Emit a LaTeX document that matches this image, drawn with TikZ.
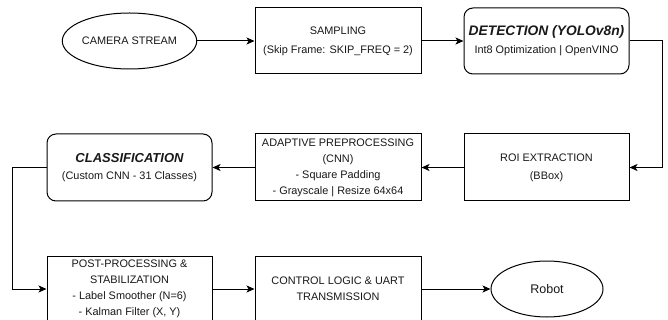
\documentclass[tikz,border=0pt]{standalone}
\usepackage{fontspec}
\setmainfont{Liberation Sans}
\usetikzlibrary{shapes.geometric,arrows.meta}
\begin{document}
\begin{tikzpicture}[x=1pt,y=-1pt,
  every node/.style={font=\fontsize{10.9}{16}\selectfont, text=black!90, align=center, inner sep=0pt},
  box/.style={draw, line width=1pt, minimum width=166pt, minimum height=66pt},
  rbox/.style={box, rounded corners=9pt},
  oval/.style={draw, line width=1pt, ellipse},
  conn/.style={draw, line width=1pt, -{Stealth[length=8pt,width=7pt,inset=2pt]}}
]
\useasboundingbox (0,0) rectangle (668,320);
\fill[white] (0,0) rectangle (668,320);
\node[oval, minimum width=105pt, minimum height=56pt] (cam) at (129.5,41) {CAMERA STREAM};
\node[box] (samp) at (338,41) {SAMPLING\\[3pt](Skip Frame: SKIP\_FREQ = 2)};
\node[rbox, minimum width=165pt] (det) at (546.5,41) {{\fontsize{13.8}{16}\selectfont\bfseries\itshape DETECTION (YOLOv8n)}\\[2pt]Int8 Optimization | OpenVINO};
\node[box, minimum width=165pt, minimum height=67pt] (roi) at (546.5,167.5) {ROI EXTRACTION\\[2pt](BBox)};
\node[box, minimum height=67pt] (ada) at (338,167.5) {ADAPTIVE PREPROCESSING\\(CNN)\\- Square Padding\\- Grayscale | Resize 64x64};
\node[rbox, minimum width=165pt, minimum height=67pt] (cls) at (129.5,167.5) {{\fontsize{13}{16}\selectfont\bfseries\itshape CLASSIFICATION}\\[1pt](Custom CNN - 31 Classes)};
\node[box, minimum width=165pt] (post) at (129.5,289) {POST-PROCESSING \&\\STABILIZATION\\- Label Smoother (N=6)\\- Kalman Filter (X, Y)};
\node[box] (ctrl) at (338,289) {CONTROL LOGIC \& UART\\TRANSMISSION};
\node[oval, minimum width=112pt, minimum height=56pt, font=\fontsize{12.5}{14}\selectfont] (robot) at (547,289) {Robot};
\draw[conn] (cam.east) -- (samp.west);
\draw[conn] (samp.east) -- (det.west);
\draw[conn] (det.east) -- ++(33,0) |- (roi.east);
\draw[conn] (roi.west) -- (ada.east);
\draw[conn] (ada.west) -- (cls.west -| cls.east);
\draw[conn] (cls.west) -- ++(-34,0) |- (post.west);
\draw[conn] (post.east) -- (ctrl.west);
\draw[conn] (ctrl.east) -- (robot.west);
\end{tikzpicture}
\end{document}
